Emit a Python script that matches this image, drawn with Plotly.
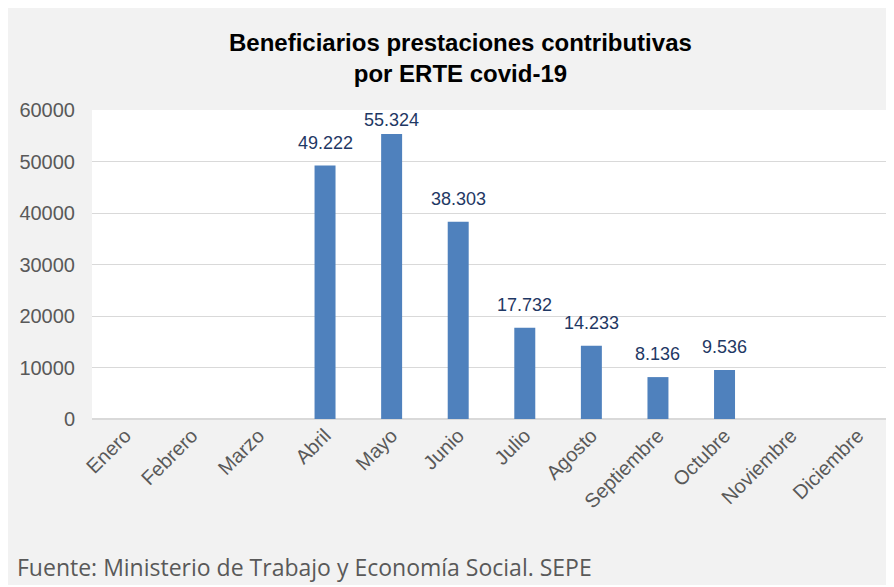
import plotly.graph_objects as go

months = ["Enero", "Febrero", "Marzo", "Abril", "Mayo", "Junio", "Julio",
          "Agosto", "Septiembre", "Octubre", "Noviembre", "Diciembre"]
beneficiarios = [None, None, None, 49222, 55324, 38303, 17732, 14233, 8136, 9536, None, None]
y_ticks = [0, 10000, 20000, 30000, 40000, 50000, 60000]
y_max = 60000

W, H = 886, 577
L, R, T, B = 84, 3, 102, 166
pw, ph = W - L - R, H - T - B

def px_x(x):
    return (x - L) / pw

def px_y(y):
    return (H - B - y) / ph

fig = go.Figure()
fig.add_trace(go.Bar(
    x=months, y=beneficiarios,
    marker=dict(color="#4f81bd", line=dict(width=0)),
    hoverinfo="x+y",
))

# Data labels (Excel-style: placed above bar, kept inside plot area)
label_annotations = []
for m, v in zip(months, beneficiarios):
    if v is None:
        continue
    room = (y_max - v) / y_max * ph
    shift = min(11, room - 22)
    label_annotations.append(dict(
        x=m, y=v, xref="x", yref="y", yanchor="bottom", xanchor="center",
        yshift=shift, showarrow=False,
        text=f"{v:,}".replace(",", "."),
        font=dict(family="Arial", size=18, color="#1f3864"),
    ))

fig.update_layout(
    width=W, height=H,
    margin=dict(l=L, r=R, t=T, b=B, pad=0),
    paper_bgcolor="#f2f2f2", plot_bgcolor="white",
    separators=",.",
    bargap=0.685,
    showlegend=False,
    xaxis=dict(
        tickangle=-45, tickfont=dict(family="Arial", size=20, color="#595959"),
        showgrid=False, showline=False, ticks="",
    ),
    yaxis=dict(
        range=[0, y_max], tickvals=y_ticks, tickformat="d",
        tickfont=dict(family="Arial", size=20, color="#595959"),
        showgrid=True, gridcolor="#d9d9d9", gridwidth=1,
        zeroline=True, zerolinecolor="#d9d9d9", zerolinewidth=1.5,
        showline=False, ticks="", ticklabelstandoff=16,
    ),
    annotations=[
        dict(
            text="<b>Beneficiarios prestaciones contributivas<br>por ERTE covid-19</b>",
            xref="paper", yref="paper", x=px_x(452), y=px_y(49.5),
            xanchor="center", yanchor="middle", showarrow=False,
            font=dict(family="Arial", size=24, color="black"),
        ),
        dict(
            text="Fuente: Ministerio de Trabajo y Economía Social. SEPE",
            xref="paper", yref="paper", x=px_x(7), y=px_y(559),
            xanchor="left", yanchor="middle", showarrow=False,
            font=dict(family="Open Sans", size=23, color="#595959"),
        ),
    ] + label_annotations,
)

fig.write_html("out.html")
